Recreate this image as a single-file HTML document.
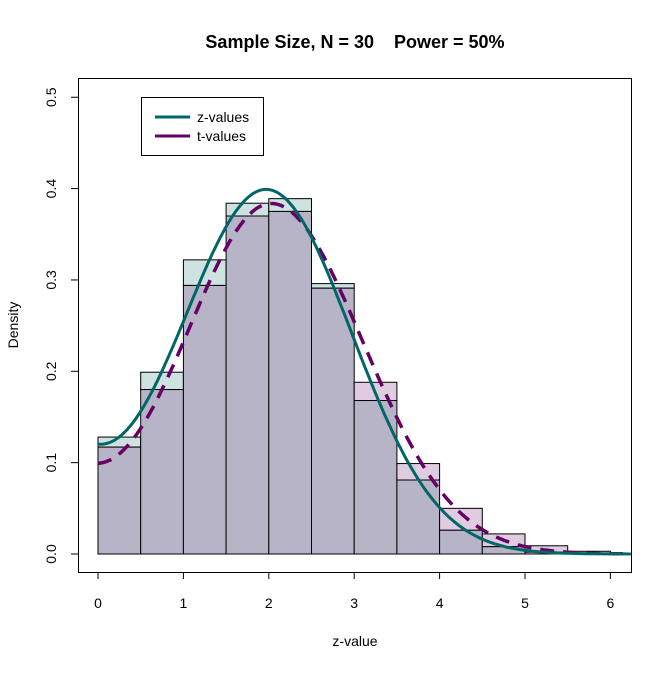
<!DOCTYPE html><html><head><style>body{margin:0;background:#fff}</style></head><body>
<svg id="s" width="672" height="671" xmlns="http://www.w3.org/2000/svg" font-family="Liberation Sans, sans-serif">
<rect width="672" height="671" fill="#fff"/>
<text x="355" y="48" text-anchor="middle" font-weight="bold" font-size="18" style="white-space:pre" xml:space="preserve">Sample Size, N = 30    Power = 50%</text>
<g id="bars" stroke="#000" stroke-width="1"></g>
<path id="tc" fill="none" stroke="#660066" stroke-width="3.5" stroke-dasharray="14,9"/>
<path id="zc" fill="none" stroke="#006666" stroke-width="3"/>
<rect x="78.5" y="78.5" width="553" height="494" fill="none" stroke="#000"/>
<g stroke="#000" id="ax"></g>
<g font-size="14" text-anchor="middle" id="xl"></g>
<g font-size="14" text-anchor="middle" id="yl"></g>
<text x="355" y="646" text-anchor="middle" font-size="14">z-value</text>
<text transform="translate(18,325) rotate(-90)" text-anchor="middle" font-size="14">Density</text>
<rect x="141.5" y="97.5" width="122" height="58" fill="#fff" stroke="#000"/>
<line x1="155" y1="117" x2="190" y2="117" stroke="#006666" stroke-width="3"/>
<line x1="155" y1="136" x2="190" y2="136" stroke="#660066" stroke-width="3"/>
<text x="197" y="122" font-size="14">z-values</text>
<text x="197" y="141" font-size="14">t-values</text>
</svg>
<script>
var X=function(v){return 98+v*85.4},Y=function(v){return 554-v*913.5};
var z=[0.128,0.199,0.322,0.384,0.389,0.296,0.168,0.081,0.026,0.008,0.002,0.001];
var t=[0.117,0.180,0.294,0.370,0.375,0.291,0.188,0.099,0.050,0.022,0.009,0.003];
var b='';
for(var i=0;i<12;i++){var x0=X(i*0.5),w=42.7,hi=Math.max(z[i],t[i]),lo=Math.min(z[i],t[i]);
var c=z[i]>t[i]?'#cde2e1':'#e0cce0';
b+='<rect x="'+x0+'" y="'+Y(hi)+'" width="'+w+'" height="'+(Y(lo)-Y(hi))+'" fill="'+c+'"/>';
b+='<rect x="'+x0+'" y="'+Y(lo)+'" width="'+w+'" height="'+(554-Y(lo))+'" fill="#b8b4c8"/>';}
document.getElementById('bars').innerHTML=b;
function dn(x,m,s){return Math.exp(-(x-m)*(x-m)/(2*s*s))/(Math.sqrt(2*Math.PI)*s)}
function sp(x,m,a,c){var k=2/(Math.sqrt(2*Math.PI)*(a+c));var s=x<m?a:c;return k*Math.exp(-(x-m)*(x-m)/(2*s*s))}
var pz='',pt='';
for(var x=0;x<=6.25;x+=0.02){var fz=dn(x,1.97,1)+dn(-x,1.97,1)*1.1;var ft=sp(x,2.03,1.01,1.07)+sp(-x,2.03,1.01,1.07)*0.95;
pz+=(x?'L':'M')+X(x).toFixed(1)+','+Y(fz).toFixed(1);pt+=(x?'L':'M')+X(x).toFixed(1)+','+Y(ft).toFixed(1);}
document.getElementById('zc').setAttribute('d',pz);document.getElementById('tc').setAttribute('d',pt);
var a='',xl='',yl='';
for(var i=0;i<=6;i++){a+='<line x1="'+X(i)+'" y1="572" x2="'+X(i)+'" y2="579"/>';xl+='<text x="'+X(i)+'" y="608">'+i+'</text>';}
a+='<line x1="'+X(0)+'" y1="572.5" x2="'+X(6)+'" y2="572.5"/>';
a+='<line x1="78.5" y1="'+Y(0)+'" x2="78.5" y2="'+Y(0.5)+'"/>';
for(var j=0;j<=5;j++){var v=j/10;a+='<line x1="71" y1="'+Y(v)+'" x2="78" y2="'+Y(v)+'"/>';
yl+='<text transform="translate(56,'+Y(v)+') rotate(-90)">'+(j==0?'0.0':v.toFixed(1))+'</text>';}
document.getElementById('ax').innerHTML=a;document.getElementById('xl').innerHTML=xl;document.getElementById('yl').innerHTML=yl;
</script>
</body></html>
